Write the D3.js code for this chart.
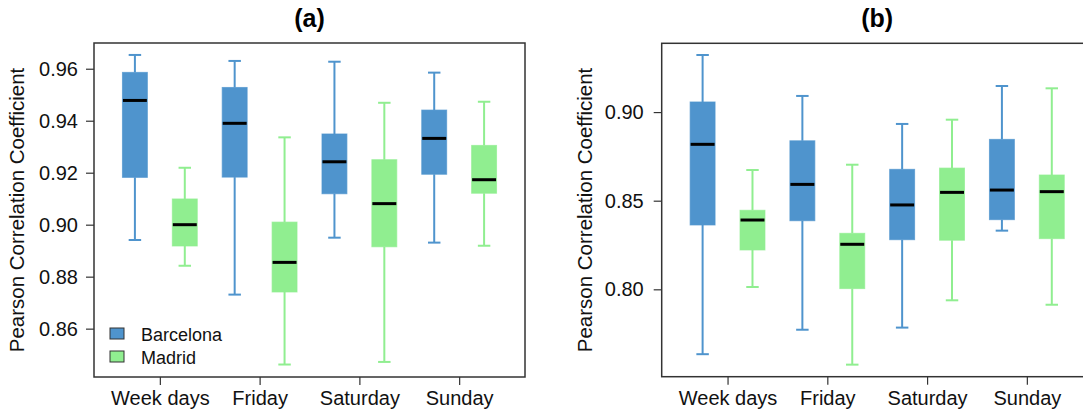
<!DOCTYPE html>
<html><head><meta charset="utf-8">
<script src="https://cdn.jsdelivr.net/npm/d3@7"></script>
<style>html,body{margin:0;padding:0;background:#fff}svg{display:block;font-family:"Liberation Sans",Arial,sans-serif}</style>
</head><body>
<svg id="chart" width="1083" height="413"></svg>
<script>
// ---- data ----
const categories = ["Week days", "Friday", "Saturday", "Sunday"];
const cities = ["Barcelona", "Madrid"];
const cityColors = ["#4F94CD", "#90EE90"];
// five-number summaries: [lower whisker, Q1, median, Q3, upper whisker]
const panelA_Barcelona = [
  [0.8941, 0.9182, 0.9478, 0.9586, 0.9653],
  [0.8731, 0.9183, 0.9390, 0.9528, 0.9630],
  [0.8950, 0.9119, 0.9242, 0.9349, 0.9627],
  [0.8931, 0.9194, 0.9332, 0.9441, 0.9585]
];
const panelA_Madrid = [
  [0.8842, 0.8918, 0.9000, 0.9099, 0.9219],
  [0.8462, 0.8741, 0.8855, 0.9010, 0.9336],
  [0.8472, 0.8915, 0.9081, 0.9250, 0.9469],
  [0.8919, 0.9121, 0.9173, 0.9305, 0.9473]
];
const panelB_Barcelona = [
  [0.7634, 0.8363, 0.8818, 0.9057, 0.9322],
  [0.7772, 0.8387, 0.8592, 0.8838, 0.9091],
  [0.7784, 0.8280, 0.8476, 0.8677, 0.8933],
  [0.8331, 0.8393, 0.8560, 0.8846, 0.9147]
];
const panelB_Madrid = [
  [0.8013, 0.8222, 0.8391, 0.8446, 0.8673],
  [0.7575, 0.8004, 0.8254, 0.8316, 0.8703],
  [0.7938, 0.8277, 0.8547, 0.8684, 0.8957],
  [0.7913, 0.8286, 0.8551, 0.8645, 0.9134]
];
const panelA_ticks = [0.86, 0.88, 0.90, 0.92, 0.94, 0.96];
const panelB_ticks = [0.80, 0.85, 0.90];
const panelA_domain = [0.8414, 0.9699];
const panelB_domain = [0.7507, 0.9388];
const yLabel = "Pearson Correlation Coefficient";

// ---- drawing ----
const svg = d3.select("#chart");
const frameColor = "#333";
const FONT = '"Liberation Sans",Arial,sans-serif';

function panel(opts) {
  const {left, top, width, height, domain, ticks, title, series, legend, labelPad} = opts;
  const g = svg.append("g");
  const x = d3.scaleLinear().domain([0.34, 4.66]).range([left, left + width]);
  const y = d3.scaleLinear().domain(domain).range([top + height, top]);
  const unit = x(1) - x(0);
  const boxW = 0.25 * unit;
  const offsets = [-0.25, 0.25];

  series.forEach((s, si) => {
    const col = cityColors[si];
    s.forEach((st, ci) => {
      const cx = x(ci + 1 + offsets[si]);
      const [lo, q1, med, q3, hi] = st;
      g.append("line").attr("x1", cx).attr("x2", cx).attr("y1", y(hi)).attr("y2", y(q3))
        .attr("stroke", col).attr("stroke-width", 2);
      g.append("line").attr("x1", cx).attr("x2", cx).attr("y1", y(q1)).attr("y2", y(lo))
        .attr("stroke", col).attr("stroke-width", 2);
      [hi, lo].forEach(v => {
        g.append("line").attr("x1", cx - boxW / 4).attr("x2", cx + boxW / 4)
          .attr("y1", y(v)).attr("y2", y(v)).attr("stroke", col).attr("stroke-width", 2);
      });
      g.append("rect").attr("x", cx - boxW / 2).attr("width", boxW)
        .attr("y", y(q3)).attr("height", y(q1) - y(q3))
        .attr("fill", col).attr("stroke", col).attr("stroke-opacity", 0.7).attr("stroke-width", 1);
      g.append("line").attr("x1", cx - boxW / 2 + 0.5).attr("x2", cx + boxW / 2 - 0.5)
        .attr("y1", y(med)).attr("y2", y(med)).attr("stroke", "#000").attr("stroke-width", 3);
    });
  });

  g.append("rect").attr("x", left).attr("y", top).attr("width", width).attr("height", height)
    .attr("fill", "none").attr("stroke", frameColor).attr("stroke-width", 1.5);

  const yAxis = d3.axisLeft(y).tickValues(ticks).tickFormat(d3.format(".2f")).tickSize(8).tickPadding(labelPad);
  const ya = g.append("g").attr("transform", `translate(${left},0)`).call(yAxis);
  ya.select(".domain").remove();
  ya.selectAll(".tick line").attr("stroke", frameColor).attr("stroke-width", 1.2);
  ya.selectAll(".tick text").attr("font-size", 20).attr("fill", "#111").attr("font-family", FONT);

  const xAxis = d3.axisBottom(x).tickValues([1, 2, 3, 4]).tickFormat(d => categories[d - 1]).tickSize(8).tickPadding(6);
  const xa = g.append("g").attr("transform", `translate(0,${top + height})`).call(xAxis);
  xa.select(".domain").remove();
  xa.selectAll(".tick line").attr("stroke", frameColor).attr("stroke-width", 1.2);
  xa.selectAll(".tick text").attr("font-size", 20).attr("fill", "#111").attr("font-family", FONT);

  g.append("text").attr("transform", `translate(${left - 70},${top + height / 2}) rotate(-90)`)
    .attr("text-anchor", "middle").attr("font-size", 20.5).attr("fill", "#111").text(yLabel);

  g.append("text").attr("x", left + width / 2).attr("y", 27).attr("text-anchor", "middle")
    .attr("font-size", 25).attr("font-weight", "bold").attr("fill", "#000").text(title);

  if (legend) {
    cities.forEach((c, i) => {
      const ly = 328 + i * 23;
      g.append("rect").attr("x", left + 16).attr("y", ly).attr("width", 14).attr("height", 11)
        .attr("fill", cityColors[i]).attr("stroke", "#333").attr("stroke-width", 1);
      g.append("text").attr("x", left + 47).attr("y", ly + 12.5).attr("font-size", 18)
        .attr("fill", "#111").text(c);
    });
  }
}

panel({left: 94, top: 43, width: 431, height: 334, domain: panelA_domain, ticks: panelA_ticks,
  title: "(a)", series: [panelA_Barcelona, panelA_Madrid], legend: true, labelPad: 8});
panel({left: 661.7, top: 43.3, width: 431, height: 333.4, domain: panelB_domain, ticks: panelB_ticks,
  title: "(b)", series: [panelB_Barcelona, panelB_Madrid], legend: false, labelPad: 10});
</script>
</body></html>
